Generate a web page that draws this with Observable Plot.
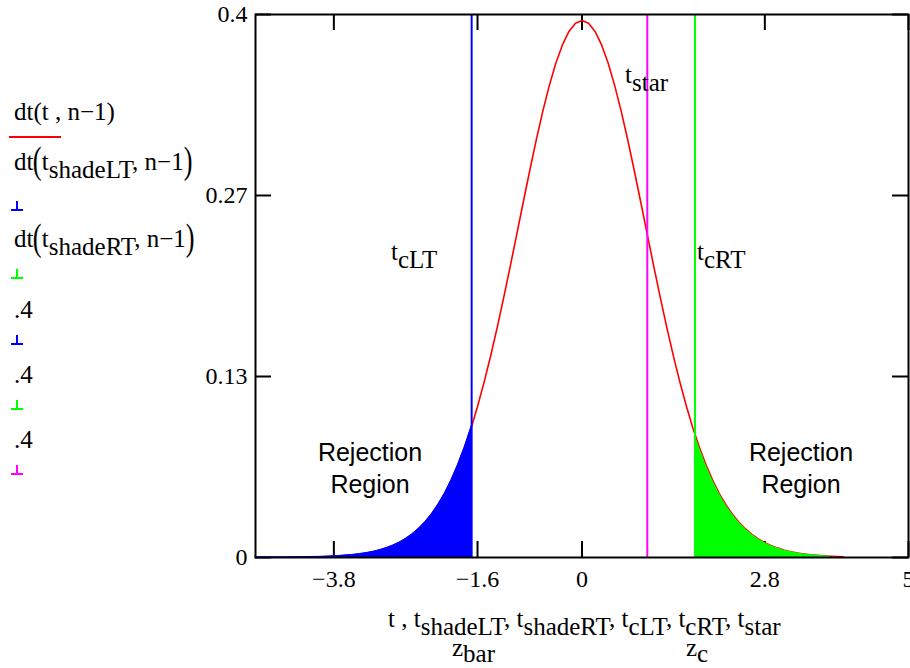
<!DOCTYPE html>
<html>
<head>
<meta charset="utf-8">
<script src="https://cdn.jsdelivr.net/npm/d3@7"></script>
<script src="https://cdn.jsdelivr.net/npm/@observablehq/plot@0.6"></script>
<style>
html,body{margin:0;padding:0;background:#fff;}
#wrap{position:relative;width:910px;height:668px;overflow:hidden;font-family:"Liberation Serif","Times New Roman",serif;color:#000;}
#chart{position:absolute;left:0;top:0;}
.t{position:absolute;white-space:nowrap;font-size:25px;line-height:25px;}
.sub{position:relative;top:8px;}
.sub2{position:relative;top:6px;}
.bp{display:inline-block;transform:scale(1.05,1.5);transform-origin:50% 62%;}
.sans{position:absolute;width:200px;font-family:"Liberation Sans",Arial,sans-serif;font-size:25px;text-align:center;line-height:32px;}
.stem{position:absolute;width:12px;height:10px;}
.stem .h{position:absolute;left:0;width:12px;bottom:0;height:2px;}
.stem .v{position:absolute;left:5px;width:2px;top:0;height:10px;}
.swatch{position:absolute;height:2px;background:#ff0000;}
</style>
</head>
<body>
<div id="wrap">
  <div id="chart"></div>
  <!-- legend -->
  <div class="t" style="left:14px;top:99px">dt(t , n−1)</div>
  <div class="swatch" style="left:9px;top:136px;width:52px"></div>
  <div class="t" style="left:14px;top:149px">dt<span class="bp">(</span>t<span class="sub">shadeLT</span>, n−1<span class="bp">)</span></div>
  <div class="stem" style="left:11px;top:201px"><div class="h" style="background:#0000ff"></div><div class="v" style="background:#0000ff"></div></div>
  <div class="t" style="left:14px;top:226px">dt<span class="bp">(</span>t<span class="sub">shadeRT</span>, n−1<span class="bp">)</span></div>
  <div class="stem" style="left:11px;top:269px"><div class="h" style="background:#00ff00"></div><div class="v" style="background:#00ff00"></div></div>
  <div class="t" style="left:14px;top:297px">.4</div>
  <div class="stem" style="left:11px;top:335px"><div class="h" style="background:#0000ff"></div><div class="v" style="background:#0000ff"></div></div>
  <div class="t" style="left:14px;top:362px">.4</div>
  <div class="stem" style="left:11px;top:400px"><div class="h" style="background:#00ff00"></div><div class="v" style="background:#00ff00"></div></div>
  <div class="t" style="left:14px;top:427px">.4</div>
  <div class="stem" style="left:11px;top:465px"><div class="h" style="background:#ff00ff"></div><div class="v" style="background:#ff00ff"></div></div>
  <!-- annotations -->
  <div class="t" style="left:391px;top:239px">t<span class="sub">cLT</span></div>
  <div class="t" style="left:697px;top:239px">t<span class="sub">cRT</span></div>
  <div class="t" style="left:625px;top:62px">t<span class="sub">star</span></div>
  <div class="sans" style="left:270px;top:436px">Rejection<br>Region</div>
  <div class="sans" style="left:701px;top:436px">Rejection<br>Region</div>
  <!-- x axis title -->
  <div class="t" style="left:388px;top:606px">t , t<span class="sub">shadeLT</span>, t<span class="sub">shadeRT</span>, t<span class="sub">cLT</span>, t<span class="sub">cRT</span>, t<span class="sub">star</span></div>
  <div class="t" style="left:452px;top:635px">z<span class="sub2">bar</span></div>
  <div class="t" style="left:686px;top:635px">z<span class="sub2">c</span></div>
</div>
<script>
// density curve dt(t, n-1)
const curveT = [-4.0,-3.9,-3.8,-3.7,-3.6,-3.5,-3.4,-3.3,-3.2,-3.1,-3.0,-2.9,-2.8,-2.7,-2.6,-2.5,-2.4,-2.3,-2.2,-2.1,-2.0,-1.9,-1.8,-1.7,-1.6,-1.5,-1.4,-1.3,-1.2,-1.1,-1.0,-0.9,-0.8,-0.7,-0.6,-0.5,-0.4,-0.3,-0.2,-0.1,0.0,0.1,0.2,0.3,0.4,0.5,0.6,0.7,0.8,0.9,1.0,1.1,1.2,1.3,1.4,1.5,1.6,1.7,1.8,1.9,2.0,2.1,2.2,2.3,2.4,2.5,2.6,2.7,2.8,2.9,3.0,3.1,3.2,3.3,3.4,3.5,3.6,3.7,3.8,3.9,4.0];
const curveD = [0.0005,0.0007,0.0009,0.0012,0.0016,0.0020,0.0026,0.0033,0.0042,0.0054,0.0069,0.0087,0.0109,0.0137,0.0171,0.0212,0.0261,0.0320,0.0391,0.0473,0.0570,0.0681,0.0808,0.0951,0.1112,0.1290,0.1483,0.1692,0.1912,0.2143,0.2379,0.2617,0.2851,0.3077,0.3288,0.3478,0.3643,0.3776,0.3875,0.3936,0.3956,0.3936,0.3875,0.3776,0.3643,0.3478,0.3288,0.3077,0.2851,0.2617,0.2379,0.2143,0.1912,0.1692,0.1483,0.1290,0.1112,0.0951,0.0808,0.0681,0.0570,0.0473,0.0391,0.0320,0.0261,0.0212,0.0171,0.0137,0.0109,0.0087,0.0069,0.0054,0.0042,0.0033,0.0026,0.0020,0.0016,0.0012,0.0009,0.0007,0.0005];

// left shaded rejection region dt(t_shadeLT, n-1)
const shadeLT_T = [-5.0,-4.5,-4.0,-3.9,-3.8,-3.7,-3.6,-3.5,-3.4,-3.3,-3.2,-3.1,-3.0,-2.9,-2.8,-2.7,-2.6,-2.5,-2.4,-2.3,-2.2,-2.1,-2.0,-1.9,-1.8,-1.69];
const shadeLT_D = [0.00004,0.00014,0.0005,0.0007,0.0009,0.0012,0.0016,0.0020,0.0026,0.0033,0.0042,0.0054,0.0069,0.0087,0.0109,0.0137,0.0171,0.0212,0.0261,0.0320,0.0391,0.0473,0.0570,0.0681,0.0808,0.0967];

// right shaded rejection region dt(t_shadeRT, n-1)
const shadeRT_T = [1.73,1.8,1.9,2.0,2.1,2.2,2.3,2.4,2.5,2.6,2.7,2.8,2.9,3.0,3.1,3.2,3.3,3.4,3.5,3.6,3.7,3.8];
const shadeRT_D = [0.0907,0.0808,0.0681,0.0570,0.0473,0.0391,0.0320,0.0261,0.0212,0.0171,0.0137,0.0109,0.0087,0.0069,0.0054,0.0042,0.0033,0.0026,0.0020,0.0016,0.0012,0.0009];

// stems: t_cLT, t_cRT, t_star (height .4)
const stemNames = ["t_cLT", "t_cRT", "t_star"];
const stemT = [-1.69, 1.73, 1.0];
const stemH = [0.4, 0.4, 0.4];

// axis ticks
const xTicks = [-3.8, -1.6, 0, 2.8, 5];
const xTickLabels = ["−3.8", "−1.6", "0", "2.8", "5"];
const yTicks = [0, 0.13333, 0.26667, 0.4];
const yTickLabels = ["0", "0.13", "0.27", "0.4"];

const curve = curveT.map((t, i) => ({t, d: curveD[i]}));
const lt = shadeLT_T.map((t, i) => ({t, d: shadeLT_D[i]}));
const rt = shadeRT_T.map((t, i) => ({t, d: shadeRT_D[i]}));
const stems = stemNames.map((name, i) => ({name, t: stemT[i], h: stemH[i]}));

const xFmt = (v) => xTickLabels[xTicks.indexOf(v)];
const yFmt = (v) => yTickLabels[yTicks.indexOf(v)];

const W = 910, H = 668, ML = 255, MR = 2, MT = 14, MB = 111, TICK = 16;
const xDom = [-5, 5], yDom = [0, 0.4];
// tick length expressed in each scale's units
const xLen = (xDom[1] - xDom[0]) * TICK / (W - ML - MR);
const yLen = (yDom[1] - yDom[0]) * TICK / (H - MT - MB);

const chart = Plot.plot({
  width: W,
  height: H,
  marginLeft: ML,
  marginRight: MR,
  marginTop: MT,
  marginBottom: MB,
  style: {fontFamily: "'Liberation Serif', 'Times New Roman', serif", fontSize: "24px", background: "transparent", color: "#000", overflow: "hidden"},
  x: {domain: xDom},
  y: {domain: yDom},
  marks: [
    Plot.axisX({anchor: "bottom", ticks: xTicks, tickSize: 0, tickPadding: 12, tickFormat: xFmt, label: null}),
    Plot.axisY({anchor: "left", ticks: yTicks, tickSize: 0, tickPadding: 8, tickFormat: yFmt, label: null}),
    // inward tick marks on all four sides
    Plot.ruleX(xTicks, {x: (d) => d, y1: yDom[0], y2: yDom[0] + yLen, stroke: "#000", strokeWidth: 2}),
    Plot.ruleX(xTicks, {x: (d) => d, y1: yDom[1] - yLen, y2: yDom[1], stroke: "#000", strokeWidth: 2}),
    Plot.ruleY(yTicks, {y: (d) => d, x1: xDom[0], x2: xDom[0] + xLen, stroke: "#000", strokeWidth: 2}),
    Plot.ruleY(yTicks, {y: (d) => d, x1: xDom[1] - xLen, x2: xDom[1], stroke: "#000", strokeWidth: 2}),
    Plot.line(curve, {x: "t", y: "d", stroke: "#ff0000", strokeWidth: 1.6}),
    Plot.areaY(lt, {x: "t", y: "d", fill: "#0000ff", stroke: "#0000ff", strokeWidth: 1}),
    Plot.areaY(rt, {x: "t", y: "d", fill: "#00ff00"}),
    Plot.ruleX(stems.filter(s => s.name === "t_cLT"), {x: "t", y1: 0, y2: "h", stroke: "#0000ff", strokeWidth: 2}),
    Plot.ruleX(stems.filter(s => s.name === "t_cRT"), {x: "t", y1: 0, y2: "h", stroke: "#00ff00", strokeWidth: 2}),
    Plot.ruleX(stems.filter(s => s.name === "t_star"), {x: "t", y1: 0, y2: "h", stroke: "#ff00ff", strokeWidth: 2}),
    Plot.frame({stroke: "#000", strokeWidth: 2})
  ]
});
document.getElementById("chart").appendChild(chart);
</script>
</body>
</html>
